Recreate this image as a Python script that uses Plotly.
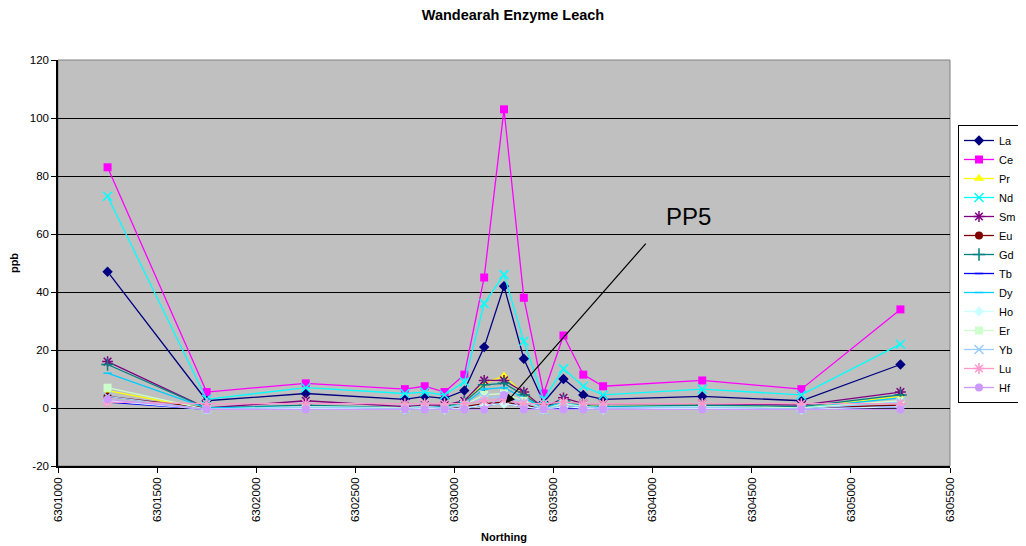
import plotly.graph_objects as go

northing = [6301250, 6301750, 6302250, 6302750, 6302850, 6302950, 6303050, 6303150,
            6303250, 6303350, 6303450, 6303550, 6303650, 6303750, 6304250, 6304750, 6305250]

La = [47, 2.5, 5, 3, 4, 3.3, 6, 21, 42, 17, 2, 10, 4.5, 3, 4, 2.5, 15]
Ce = [83, 5.5, 8.5, 6.5, 7.5, 5.5, 11.5, 45, 103, 38, 5, 25, 11.5, 7.5, 9.5, 6.5, 34]
Pr = [6, -0.5, 0.5, -0.5, 1, 0, 2, 8.5, 11, 5, -0.5, 2.5, 1, 0.5, 1, 0, 4]
Nd = [73, 3, 7, 5, 5.5, 4.5, 9, 36, 46, 23, 3, 13.5, 7.5, 4.5, 6.5, 4.5, 22]
Sm = [16, 0, 2.5, 0.5, 1, 1, 2.5, 9.5, 9.5, 5.5, 0, 3.5, 1.5, 1.5, 1.5, 1, 5.5]
Eu = [4, 0, 0.3, 0, 0.2, 0, 0.5, 1.5, 2, 1, 0, 0.5, 0.2, 0.2, 0.3, 0, 1]
Gd = [15, 0, 1, 0, 0.5, 0.5, 2, 8, 8.5, 4.5, 0, 2.5, 0.8, 0.5, 1, 0.5, 4.5]
Tb = [2, -0.5, 0, -0.5, 0, -0.5, 0, 1, 1.5, 0.5, -0.5, 0, 0, -0.5, 0, -0.5, 0.5]
Dy = [12, 0, 0.5, 0, 0.5, 0, 1.5, 6.5, 7, 3.5, 0, 2, 0.5, 0.3, 0.5, 0, 3.5]
Ho = [2.5, -0.5, 0, -0.5, 0, -0.5, 0, 1, 1.5, 0.5, -0.5, 0.5, 0, -0.5, 0, -0.5, 0.5]
Er = [7, -0.5, 0.5, 0, 0.5, 0, 1, 4.5, 5, 2.5, -0.5, 1.5, 0.5, 0, 0.5, 0, 2.5]
Yb = [4, -0.5, 0.3, -0.2, 0.3, 0, 1, 3.5, 4, 2, -0.5, 1, 0.3, 0, 0.3, -0.3, 2]
Lu = [2, 1.5, 1.5, 1.5, 1.5, 1.5, 1.5, 2.5, 3, 1.5, 1.5, 2, 1.5, 1.5, 1.5, 1.5, 1.5]
Hf = [3, -0.5, -0.5, -0.5, -0.5, -0.5, -0.5, -0.5, 4.5, -0.5, -0.5, -0.5, -0.5, -0.5, -0.5, -0.5, -0.5]

y_ticks = [-20, 0, 20, 40, 60, 80, 100, 120]
y_tick_labels = ["-20", "0", "20", "40", "60", "80", "100", "120"]

series = [
    ("La", La, "#000080", "diamond", 8),
    ("Ce", Ce, "#FF00FF", "square", 8),
    ("Pr", Pr, "#FFFF00", "triangle-up", 9),
    ("Nd", Nd, "#00FFFF", "x-thin-open", 9),
    ("Sm", Sm, "#800080", "asterisk-open", 9),
    ("Eu", Eu, "#800000", "circle", 8),
    ("Gd", Gd, "#008080", "cross-thin-open", 9),
    ("Tb", Tb, "#0000FF", "line-ew-open", 6),
    ("Dy", Dy, "#00CCFF", "line-ew-open", 6),
    ("Ho", Ho, "#CCFFFF", "diamond", 8),
    ("Er", Er, "#CCFFCC", "square", 8),
    ("Yb", Yb, "#99CCFF", "x-thin-open", 9),
    ("Lu", Lu, "#FF99CC", "asterisk-open", 9),
    ("Hf", Hf, "#CC99FF", "circle", 8),
]

fig = go.Figure()
for name, vals, color, sym, size in series:
    fig.add_trace(go.Scatter(
        x=northing, y=vals, name=name, mode="lines+markers",
        line=dict(color=color, width=1.3),
        marker=dict(symbol=sym, size=size, color=color,
                    line=dict(color=color, width=1.5 if "open" in sym else 0)),
    ))

font = "Arial, 'Liberation Sans', sans-serif"
W, H = 1026, 538
fig.update_layout(
    width=W, height=H,
    margin=dict(l=50, r=W - 50 - 892, t=52, b=80, autoexpand=False),
    paper_bgcolor="white", plot_bgcolor="#C0C0C0",
    font=dict(family=font, size=11, color="black"),
    title=dict(text="<b>Wandearah Enzyme Leach</b>", x=(504 - 8 + 9) / W, xanchor="center",
               y=1 - 2 / H, yanchor="top", pad=dict(t=0, b=0), font=dict(size=14.5, family=font)),
    showlegend=True,
    legend=dict(x=(958 - 58) / 892, xanchor="left", y=(466 - 125) / 406, yanchor="top",
                bgcolor="white", bordercolor="black", borderwidth=1,
                font=dict(size=11, family=font), itemwidth=30, tracegroupgap=0),
    xaxis=dict(range=[6301000, 6305500], dtick=500, tick0=6301000, tickangle=-90,
               showgrid=False, zeroline=False, showline=True, linecolor="black", linewidth=1.5,
               ticks="outside", ticklen=5, tickcolor="black", tickformat="d", automargin=False,
               tickfont=dict(size=11.5),
               title=dict(text="<b>Northing</b>", font=dict(size=11, family=font), standoff=12)),
    yaxis=dict(range=[-20, 120], tickvals=y_ticks, ticktext=y_tick_labels, showgrid=True,
               gridcolor="black", gridwidth=1, automargin=False,
               zeroline=False, showline=True, linecolor="black", linewidth=1.5,
               ticks="outside", ticklen=5, tickcolor="black", tickfont=dict(size=11.5),
               title=dict(text="<b>ppb</b>", font=dict(size=11, family=font), standoff=10)),
)

fig.add_shape(type="rect", xref="paper", yref="paper", x0=0, y0=0, x1=1, y1=1,
              line=dict(color="#808080", width=1), layer="below")

fig.add_annotation(x=6303258, y=1.6, ax=6303972, ay=57.2, xref="x", yref="y",
                   axref="x", ayref="y", text="", showarrow=True,
                   arrowhead=2, arrowsize=1.5, arrowwidth=1.2, arrowcolor="black")
fig.add_annotation(x=6304180, y=66, xref="x", yref="y", text="PP5", showarrow=False,
                   font=dict(size=24, family=font, color="black"))

fig.write_html("out.html")
